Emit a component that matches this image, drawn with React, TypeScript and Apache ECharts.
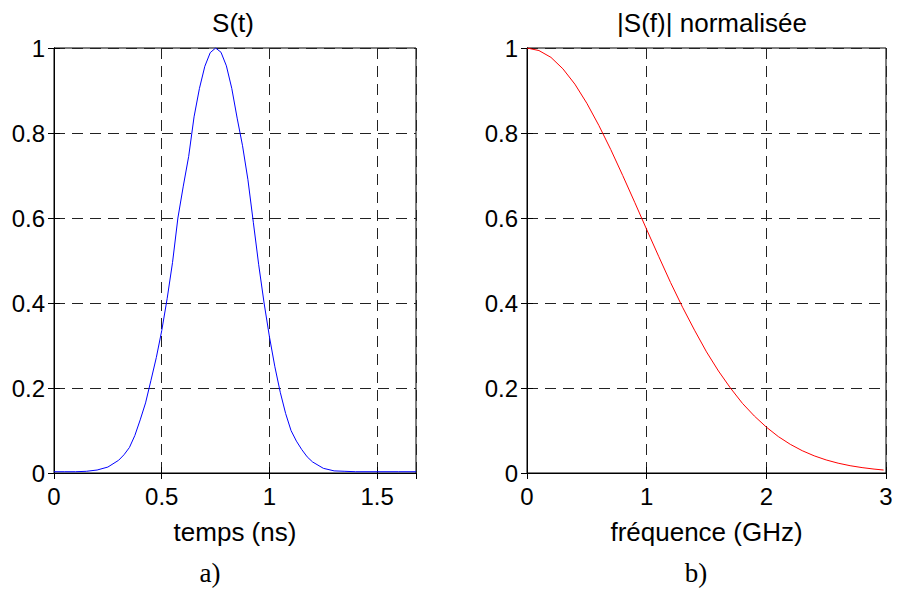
import React, { useEffect, useRef } from "react";
import * as echarts from "echarts";

// Left plot: S(t), time in ns
const timeNs = [
  0, 0.05, 0.1, 0.15, 0.2, 0.25, 0.3, 0.325, 0.35, 0.375, 0.4, 0.425, 0.45, 0.475,
  0.5, 0.525, 0.55, 0.575, 0.6, 0.625, 0.65, 0.675, 0.7, 0.725, 0.75, 0.775, 0.8,
  0.825, 0.85, 0.875, 0.9, 0.925, 0.95, 0.975, 1.0, 1.025, 1.05, 1.075, 1.1, 1.125,
  1.15, 1.175, 1.2, 1.25, 1.3, 1.35, 1.4, 1.5, 1.6, 1.68,
];
const pulse = [
  0.003, 0.003, 0.003, 0.004, 0.007, 0.014, 0.03, 0.043, 0.06, 0.088, 0.125, 0.165,
  0.218, 0.272, 0.335, 0.41, 0.495, 0.6, 0.675, 0.745, 0.838, 0.905, 0.957, 0.989,
  1.0, 0.99, 0.958, 0.905, 0.835, 0.77, 0.69, 0.59, 0.49, 0.4, 0.32, 0.25, 0.19,
  0.14, 0.1, 0.075, 0.055, 0.038, 0.026, 0.011, 0.005, 0.004, 0.003, 0.003, 0.003,
  0.003,
];

// Right plot: |S(f)| normalised, frequency in GHz
const freqGHz = [
  0, 0.1, 0.2, 0.3, 0.4, 0.5, 0.6, 0.7, 0.8, 0.9, 1.0, 1.1, 1.2, 1.3, 1.4, 1.5, 1.6,
  1.7, 1.8, 1.9, 2.0, 2.1, 2.2, 2.3, 2.4, 2.5, 2.6, 2.7, 2.8, 2.9, 2.98,
];
const spectrum = [
  1.0, 0.994, 0.978, 0.951, 0.915, 0.87, 0.818, 0.761, 0.7, 0.637, 0.573, 0.51, 0.448,
  0.39, 0.336, 0.285, 0.24, 0.2, 0.164, 0.134, 0.108, 0.0857, 0.0675, 0.0525, 0.0404,
  0.0307, 0.0231, 0.0172, 0.0127, 0.0092, 0.007,
];

const titles = ["S(t)", "|S(f)| normalisée"];
const xNames = ["temps (ns)", "fréquence (GHz)"];
const panelTags = ["a)", "b)"];

const FONT = "Liberation Sans";

export default function App() {
  const ref = useRef<HTMLDivElement>(null);
  useEffect(() => {
    if (!ref.current) return;
    const chart = echarts.init(ref.current, undefined, { renderer: "svg" });

    const grids = [
      { left: 54, top: 48, width: 362, height: 425 },
      { left: 527, top: 48, width: 359, height: 425 },
    ];
    const xRanges = [
      { min: 0, max: 1.68, interval: 0.5 },
      { min: 0, max: 3, interval: 1 },
    ];

    const dashed = { show: true, lineStyle: { color: "#222", width: 1, type: [11, 7] as any } };
    const tickIn = { show: true, inside: true, length: 6, lineStyle: { color: "#000", width: 1 } };
    const axisLine = { show: true, lineStyle: { color: "#000", width: 1 } };
    const labelStyle = { color: "#000", fontFamily: FONT, fontSize: 24 };

    const xAxis: any[] = [];
    const yAxis: any[] = [];
    [0, 1].forEach((g) => {
      xAxis.push({
        type: "value",
        gridIndex: g,
        position: "bottom",
        ...xRanges[g],
        axisLine,
        axisTick: tickIn,
        splitLine: dashed,
        axisLabel: { ...labelStyle, margin: 11, showMaxLabel: g === 1 },
        name: xNames[g],
        nameLocation: "middle",
        nameGap: 46,
        nameTextStyle: { color: "#000", fontFamily: FONT, fontSize: 26 },
      });
      xAxis.push({
        type: "value",
        gridIndex: g,
        position: "top",
        ...xRanges[g],
        axisLine,
        axisTick: tickIn,
        splitLine: { show: false },
        axisLabel: { show: false },
      });
      yAxis.push({
        type: "value",
        gridIndex: g,
        position: "left",
        min: 0,
        max: 1,
        interval: 0.2,
        axisLine,
        axisTick: tickIn,
        splitLine: dashed,
        axisLabel: { ...labelStyle, margin: 9 },
      });
      yAxis.push({
        type: "value",
        gridIndex: g,
        position: "right",
        min: 0,
        max: 1,
        interval: 0.2,
        axisLine,
        axisTick: tickIn,
        splitLine: { show: false },
        axisLabel: { show: false },
      });
    });

    const textEl = (text: string, x: number, y: number, font: string) => ({
      type: "text",
      x,
      y,
      style: {
        text,
        font,
        fill: "#000",
        textAlign: "center",
        textVerticalAlign: "middle",
        align: "center",
        verticalAlign: "middle",
      },
    });

    chart.setOption({
      animation: false,
      backgroundColor: "#fff",
      grid: grids.map((g) => ({ ...g, show: true, borderColor: "#000", borderWidth: 1, backgroundColor: "#fff" })),
      xAxis,
      yAxis,
      series: [
        {
          type: "line",
          xAxisIndex: 0,
          yAxisIndex: 0,
          data: timeNs.map((t, i) => [t, pulse[i]]),
          showSymbol: false,
          lineStyle: { color: "#0000ff", width: 1 },
          itemStyle: { color: "#0000ff" },
        },
        {
          type: "line",
          xAxisIndex: 2,
          yAxisIndex: 2,
          data: freqGHz.map((f, i) => [f, spectrum[i]]),
          showSymbol: false,
          lineStyle: { color: "#ff0000", width: 1 },
          itemStyle: { color: "#ff0000" },
        },
      ],
      graphic: [
        textEl(titles[0], 233, 23, `26px "${FONT}"`),
        textEl(titles[1], 712, 23, `26px "${FONT}"`),
        textEl(panelTags[0], 210, 573, `27px "Liberation Serif"`),
        textEl(panelTags[1], 696, 573, `27px "Liberation Serif"`),
      ],
    });
    return () => chart.dispose();
  }, []);
  return (
    <div
      ref={ref}
      style={{ position: "fixed", left: 0, top: 0, width: 898, height: 594 }}
    />
  );
}
